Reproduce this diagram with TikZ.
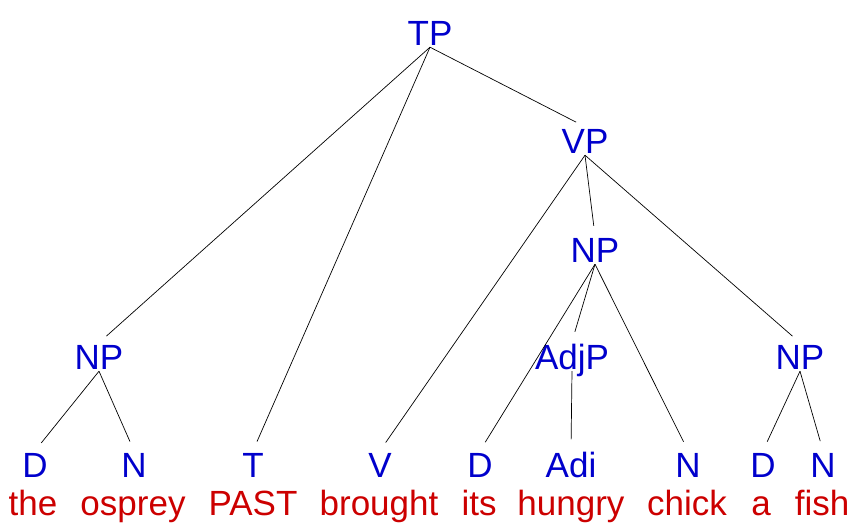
\documentclass[tikz,border=0pt]{standalone}
\usepackage{fontspec}
\setmainfont{Liberation Sans}
\usetikzlibrary{positioning}
\definecolor{catblue}{RGB}{0,0,204}
\definecolor{wordred}{RGB}{204,0,0}

\begin{document}
\begin{tikzpicture}[x=1pt,y=-1pt,font=\fontsize{35}{40}\selectfont,
  cat/.style={text=catblue,inner sep=2pt,anchor=base,text depth=0pt},
  word/.style={text=wordred,inner sep=2pt,anchor=base},
  branch/.style={draw,line width=0.7pt,shorten >=10pt}]
  \useasboundingbox (0,0) rectangle (862,531);

  % phrase nodes
  \node[cat] (tp)   at (430,45)  {TP};
  \node[cat] (vp)   at (585,153) {VP};
  \node[cat] (np2)  at (595,262) {NP};
  \node[cat] (np1)  at (99,369)  {NP};
  \node[cat] (adjp) at (572,369) {AdjP};
  \node[cat] (np3)  at (800,369) {NP};

  % word categories
  \node[cat] (d1)  at (35,477)  {D};
  \node[cat] (n1)  at (134,477) {N};
  \node[cat] (t)   at (253,477) {T};
  \node[cat] (v)   at (380,477) {V};
  \node[cat] (d2)  at (480,477) {D};
  \node[cat] (adi) at (571,477) {Adi};
  \node[cat] (n2)  at (688,477) {N};
  \node[cat] (d3)  at (763,477) {D};
  \node[cat] (n3)  at (823,477) {N};

  % words
  \node[word] (the)     at (33,515)  {the};
  \node[word] (osprey)  at (133,515) {osprey};
  \node[word] (past)    at (253,515) {PAST};
  \node[word] (brought) at (379,515) {brought};
  \node[word] (its)     at (479,515) {its};
  \node[word] (hungry)  at (571,515) {hungry};
  \node[word] (chick)   at (687,515) {chick};
  \node[word] (a)       at (761,515) {a};
  \node[word] (fish)    at (822,515) {fish};

  \path[branch] (tp.south) edge (np1.north)
                (tp.south) edge (t.north)
                (tp.south) edge (vp.north)
        (vp.south) edge (v.north)
                   edge (np2.north)
                   edge (np3.north)
        (np2.south) edge (d2.north)
                    edge (adjp.north)
                    edge (n2.north)
        (adjp.south) edge (adi.north)
        (np1.south) edge (d1.north)
                    edge (n1.north)
        (np3.south) edge (d3.north)
                    edge (n3.north);
\end{tikzpicture}
\end{document}
